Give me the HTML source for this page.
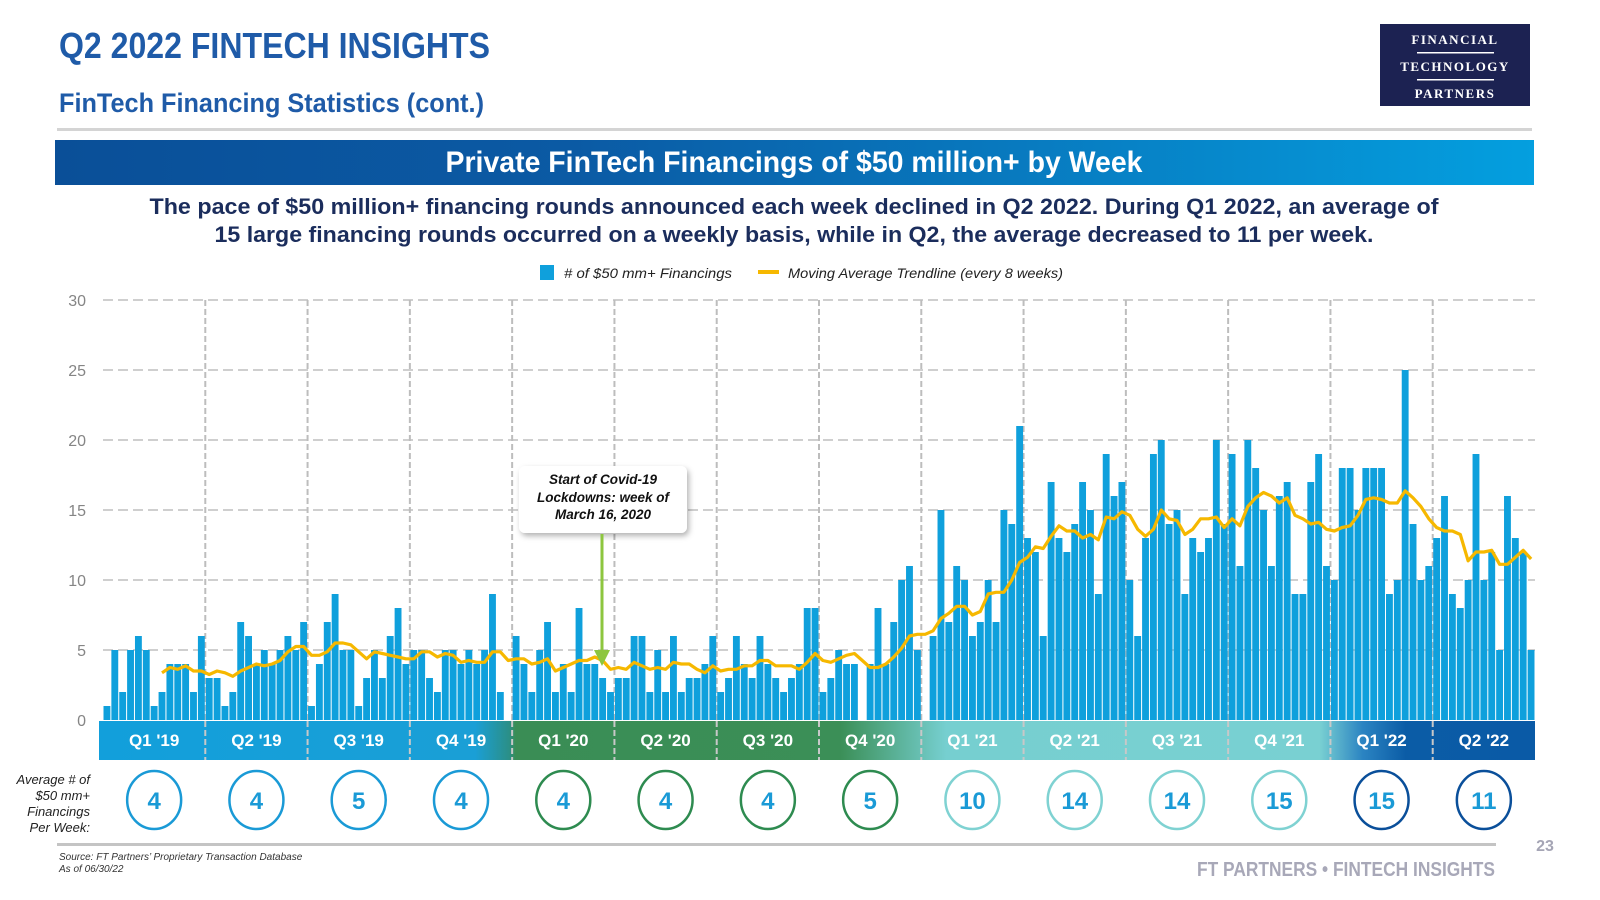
<!DOCTYPE html>
<html><head><meta charset="utf-8"><style>
html,body{margin:0;padding:0;background:#fff;}
svg{display:block;font-family:"Liberation Sans",sans-serif;}
</style></head><body>
<svg id="chart" width="1600" height="900" viewBox="0 0 1600 900" xmlns="http://www.w3.org/2000/svg">
<defs>
<linearGradient id="bannerGrad" x1="0" x2="1" y1="0" y2="0"><stop offset="0" stop-color="#0a4f98"/><stop offset="0.35" stop-color="#0b5aa4"/><stop offset="1" stop-color="#049fdf"/></linearGradient>
<linearGradient id="bandGrad" gradientUnits="userSpaceOnUse" x1="99" x2="1535" y1="0" y2="0">
<stop offset="0" stop-color="#129fdb"/><stop offset="0.262" stop-color="#1a9fd6"/><stop offset="0.286" stop-color="#2b8f86"/><stop offset="0.29" stop-color="#3a8d55"/>
<stop offset="0.516" stop-color="#3b8f57"/><stop offset="0.59" stop-color="#76cfd0"/>
<stop offset="0.85" stop-color="#79d0d2"/><stop offset="0.88" stop-color="#2b84c2"/><stop offset="0.91" stop-color="#0b5ca6"/><stop offset="1" stop-color="#0a5aa6"/>
</linearGradient>
<filter id="shadow" x="-20%" y="-20%" width="140%" height="150%"><feDropShadow dx="2" dy="3" stdDeviation="3" flood-color="#000" flood-opacity="0.3"/></filter>
</defs>

<text x="59" y="58" font-size="36" font-weight="bold" fill="#1f5ba8" textLength="431" lengthAdjust="spacingAndGlyphs">Q2 2022 FINTECH INSIGHTS</text>
<text x="59" y="112" font-size="27" font-weight="bold" fill="#1f5ba8" textLength="425" lengthAdjust="spacingAndGlyphs">FinTech Financing Statistics (cont.)</text>

<g>
<rect x="1380" y="24" width="150" height="82" fill="#1c2252"/>
<text x="1455" y="44" font-family="Liberation Serif,serif" font-size="13" font-weight="bold" fill="#fff" text-anchor="middle" letter-spacing="1.5">FINANCIAL</text>
<rect x="1417" y="52" width="77" height="1.5" fill="#fff"/>
<text x="1455" y="71" font-family="Liberation Serif,serif" font-size="13" font-weight="bold" fill="#fff" text-anchor="middle" letter-spacing="1.5">TECHNOLOGY</text>
<rect x="1417" y="79" width="77" height="1.5" fill="#fff"/>
<text x="1455" y="98" font-family="Liberation Serif,serif" font-size="13" font-weight="bold" fill="#fff" text-anchor="middle" letter-spacing="1.5">PARTNERS</text>
</g>

<rect x="57" y="128" width="1475" height="3" fill="#d4d4d4"/>
<rect x="55" y="140" width="1479" height="45" fill="url(#bannerGrad)"/>
<text x="794" y="172" font-size="30" font-weight="bold" fill="#fff" text-anchor="middle" textLength="697" lengthAdjust="spacingAndGlyphs">Private FinTech Financings of $50 million+ by Week</text>

<text x="794" y="214" font-size="22" font-weight="bold" fill="#1b2d5c" text-anchor="middle" textLength="1289" lengthAdjust="spacingAndGlyphs">The pace of $50 million+ financing rounds announced each week declined in Q2 2022. During Q1 2022, an average of</text>
<text x="794" y="242" font-size="22" font-weight="bold" fill="#1b2d5c" text-anchor="middle" textLength="1159" lengthAdjust="spacingAndGlyphs">15 large financing rounds occurred on a weekly basis, while in Q2, the average decreased to 11 per week.</text>

<g>
<rect x="540" y="265" width="14" height="15" fill="#0fa0dc"/>
<text x="564" y="278" font-size="14" font-style="italic" fill="#222" textLength="168" lengthAdjust="spacingAndGlyphs"># of $50 mm+ Financings</text>
<rect x="758" y="270" width="21" height="4" fill="#f6b800"/>
<text x="788" y="278" font-size="14" font-style="italic" fill="#222" textLength="275" lengthAdjust="spacingAndGlyphs">Moving Average Trendline (every 8 weeks)</text>
</g>

<g id="grid"></g>
<g id="bars"></g>
<g id="trend"></g>
<g id="band"></g>
<g id="circles"></g>

<g>
<rect x="519" y="466" width="168" height="67" rx="6" fill="#fff" filter="url(#shadow)"/>
<text x="603" y="484" font-size="13.5" font-weight="bold" font-style="italic" fill="#111" text-anchor="middle">Start of Covid-19</text>
<text x="603" y="502" font-size="13.5" font-weight="bold" font-style="italic" fill="#111" text-anchor="middle">Lockdowns: week of</text>
<text x="603" y="519" font-size="13.5" font-weight="bold" font-style="italic" fill="#111" text-anchor="middle">March 16, 2020</text>
<line x1="602" y1="534" x2="602" y2="652" stroke="#8dc63f" stroke-width="3"/>
<polygon points="594,650 610,650 602,666" fill="#8dc63f"/>
</g>

<g font-size="13" font-style="italic" fill="#222" text-anchor="end">
<text x="90" y="784">Average # of</text>
<text x="90" y="800">$50 mm+</text>
<text x="90" y="816">Financings</text>
<text x="90" y="832">Per Week:</text>
</g>

<rect x="57" y="843" width="1439" height="3" fill="#c4c4c4"/>
<text x="59" y="860" font-size="10" font-style="italic" fill="#333">Source:  FT Partners’ Proprietary Transaction Database</text>
<text x="59" y="872" font-size="10" font-style="italic" fill="#333">As of 06/30/22</text>
<text x="1545" y="851" font-size="16" font-weight="bold" fill="#a5a5b5" text-anchor="middle">23</text>
<text x="1495" y="876" font-size="20" font-weight="bold" fill="#a8a8b8" text-anchor="end" textLength="298" lengthAdjust="spacingAndGlyphs">FT PARTNERS • FINTECH INSIGHTS</text>
</svg>

<script>
const quarters = ["Q1 '19","Q2 '19","Q3 '19","Q4 '19","Q1 '20","Q2 '20","Q3 '20","Q4 '20","Q1 '21","Q2 '21","Q3 '21","Q4 '21","Q1 '22","Q2 '22"];
const weeklyFinancings = [
 1,5,2,5,6,5,1,2,4,4,4,2,6,
 3,3,1,2,7,6,4,5,4,5,6,5,7,
 1,4,7,9,5,5,1,3,5,3,6,8,4,
 5,5,3,2,5,5,4,5,4,5,9,2,0,
 6,4,2,5,7,2,4,2,8,4,4,3,2,
 3,3,6,6,2,5,2,6,2,3,3,4,6,
 2,3,6,4,3,6,4,3,2,3,4,8,8,
 2,3,5,4,4,0,4,8,4,7,10,11,5,
 0,6,15,7,11,10,6,7,10,7,15,14,21,
 13,12,6,17,13,12,14,17,15,9,19,16,17,
 10,6,13,19,20,14,15,9,13,12,13,20,14,
 19,11,20,18,15,11,16,17,9,9,17,19,11,
 10,18,18,15,18,18,18,9,10,25,14,10,11,
 13,16,9,8,10,19,10,12,5,16,13,12,5
];
const quarterAverages = [4,4,5,4,4,4,4,5,10,14,14,15,15,11];
const yTicks = [0,5,10,15,20,25,30];
const maWindow = 8;

const NS = "http://www.w3.org/2000/svg";
const X0 = 103, X1 = 1535, Y0 = 720, PER = 14;
const nWeeks = weeklyFinancings.length;
const barW = (X1 - X0) / nWeeks;
const qW = (X1 - X0) / quarters.length;
const xScale = i => X0 + i * barW;
const yScale = v => Y0 - v * PER;
function mk(tag, attrs, parent){ const e=document.createElementNS(NS,tag); for(const k in attrs) e.setAttribute(k,attrs[k]); parent.appendChild(e); return e; }

const grid = document.getElementById('grid');
yTicks.forEach(t => {
  if (t > 0) {
    const l = mk('line',{x1:X0,x2:X1,y1:yScale(t),y2:yScale(t),stroke:'#cfcfcf','stroke-width':2,'stroke-dasharray':'10,5'},grid);
    
    
  }
  const tx = mk('text',{x:86,y:yScale(t)+6,'font-size':16,fill:'#858585','text-anchor':'end'},grid);
  tx.textContent = t;
  
  
});

const bars = document.getElementById('bars');
weeklyFinancings.forEach((v,i) => {
  if (v <= 0) return;
  const r = mk('rect',{x:xScale(i)+0.5,y:yScale(v),width:barW-1,height:v*PER,fill:'#0fa0dc'},bars);
  
  
});

// quarter separators
for (let q=1; q<quarters.length; q++){
  const x = X0 + q*qW;
  const l = mk('line',{x1:x,x2:x,y1:yScale(30),y2:Y0,stroke:'#bdbdbd','stroke-width':2,'stroke-dasharray':'6,3'},grid);
  
  
}

// trendline: 8-week moving average of the bar data
const trend = document.getElementById('trend');
let pts = [];
for (let i=maWindow-1;i<nWeeks;i++){
  let s=0; for(let j=i-maWindow+1;j<=i;j++) s+=weeklyFinancings[j];
  pts.push((xScale(i)+barW/2).toFixed(1)+','+yScale(s/maWindow).toFixed(1));
}
const pl = mk('polyline',{points:pts.join(' '),fill:'none',stroke:'#f6b800','stroke-width':3.2,'stroke-linejoin':'round'},trend);



// quarter band
const band = document.getElementById('band');
const br = mk('rect',{x:99,y:721,width:X1-99,height:39,fill:'url(#bandGrad)'},band);


quarters.forEach((q,k) => {
  const cx = X0 + (k+0.5)*qW;
  if (k>0){
    const l = mk('line',{x1:X0+k*qW,x2:X0+k*qW,y1:721,y2:760,stroke:'#c8c8c8','stroke-width':2,'stroke-dasharray':'6,3'},band);
    
    
  }
  const t = mk('text',{x:cx,y:746,'font-size':17,'font-weight':'bold',fill:'#fff','text-anchor':'middle'},band);
  t.textContent = q;
  
  
});

// average circles
const circles = document.getElementById('circles');
const ringColor = k => k<4 ? '#1a9ad6' : k<8 ? '#2e8b50' : k<12 ? '#7fd2d2' : '#0a4f9a';
quarterAverages.forEach((v,k) => {
  const cx = X0 + (k+0.5)*qW;
  const e = mk('ellipse',{cx:cx,cy:800,rx:27,ry:29,fill:'#fff',stroke:ringColor(k),'stroke-width':2.5},circles);
  
  
  const t = mk('text',{x:cx,y:809,'font-size':24,'font-weight':'bold',fill:'#1a9ad6','text-anchor':'middle'},circles);
  t.textContent = v;
  
  
});
</script>
</body></html>
